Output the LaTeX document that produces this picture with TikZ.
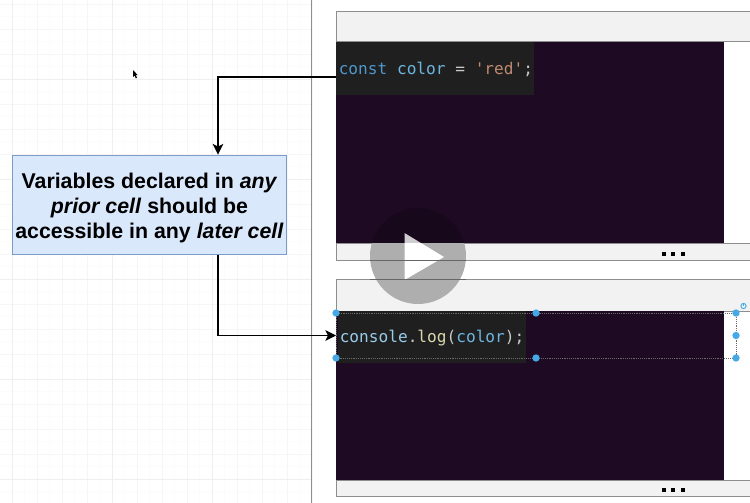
\documentclass[tikz,border=0pt]{standalone}
\usepackage{fontspec}
\setmainfont{Liberation Sans}
\newfontfamily\codefont{DejaVu Sans Mono}
\usetikzlibrary{arrows.meta}
\definecolor{gridfaint}{HTML}{FCFCFC}
\definecolor{gridminor}{HTML}{F6F6F6}
\definecolor{gridmajor}{HTML}{EFEFEF}
\definecolor{cellgray}{HTML}{F2F2F2}
\definecolor{celledge}{HTML}{8E8E8E}
\definecolor{cellink}{HTML}{1F0A24}
\definecolor{codebg}{HTML}{1F1F1F}
\definecolor{kw}{HTML}{4F97CC}
\definecolor{var}{HTML}{6DB6E0}
\definecolor{str}{HTML}{C08A70}
\definecolor{fn}{HTML}{D8D8AC}
\definecolor{plain}{HTML}{C8C8C8}
\definecolor{boxfill}{HTML}{DAE8FC}
\definecolor{boxedge}{HTML}{7C9BC9}
\definecolor{handle}{HTML}{45A9E6}
\definecolor{selline}{HTML}{6A6A6A}
\definecolor{playgray}{HTML}{AEAEAE}
\tikzset{
  flow/.style={draw=black,line width=.8pt,-{Stealth[length=8pt,width=8pt,inset=2pt]}},
  celltop/.style={fill=cellgray,draw=celledge,line width=.75pt},
  ink/.style={fill=cellink},
  codeback/.style={fill=codebg},
  codetext/.style={anchor=west,inner sep=0pt,font=\codefont\fontsize{12.1}{14}\selectfont},
  grab/.style={circle,fill=handle,inner sep=0pt,minimum size=5.5pt},
  seldash/.style={draw=selline,line width=.4pt,densely dotted},
  note/.style={draw=boxedge,fill=boxfill,line width=.75pt,minimum width=206pt,minimum height=74.5pt,inner sep=0pt,align=center,font=\bfseries\fontsize{16}{18.7}\selectfont},
  dotmark/.style={fill=black,minimum size=3pt,inner sep=0pt}
}
\begin{document}
\begin{tikzpicture}[x=.75pt,y=-.75pt]
\useasboundingbox (0,0) rectangle (750,503);
\fill[white] (0,0) rectangle (750,503);
% grid
\foreach \gx in {24.5,49.5,...,312}{\draw[gridfaint,line width=.5pt] (\gx,0)--(\gx,503);}
\foreach \gy in {16.5,41.5,...,504}{\draw[gridfaint,line width=.5pt] (0,\gy)--(311,\gy);}
\foreach \gx in {12,37,...,312}{\draw[gridminor,line width=.5pt] (\gx,0)--(\gx,503);}
\foreach \gy in {4,29,...,504}{\draw[gridminor,line width=.5pt] (0,\gy)--(311,\gy);}
\foreach \gx in {12,112,212}{\draw[gridmajor,line width=.5pt] (\gx,0)--(\gx,503);}
\foreach \gy in {79,179,279,379,479}{\draw[gridmajor,line width=.6pt] (0,\gy)--(311,\gy);}
\draw[celledge,line width=.75pt] (311.5,0)--(311.5,503);
% cursor
\fill[black] (133,70)--(133,77)--(134.6,75.6)--(135.8,78.4)--(137,77.8)--(135.8,75.2)--(137.6,75)--cycle;
% top cell
\path[celltop] (336.5,11.5) -- (752,11.5) -- (752,42) -- (336.5,42) -- cycle;
\path[celltop] (336.5,243) -- (752,243) -- (752,260) -- (336.5,260) -- cycle;
\path[ink] (336,42) rectangle (724,243);
\path[codeback] (336,42) rectangle (534,95);
\node[codetext] (codeA) at (338.5,69) {\textcolor{kw}{const} \textcolor{var}{color} \textcolor{plain}{=} \textcolor{str}{'red'}\textcolor{plain}{;}};
\foreach \dx in {663.5,673,682.5}{\node[dotmark] at (\dx,254) {};}
% bottom cell
\path[celltop] (336,279.5) -- (752,279.5) -- (752,311) -- (336,311) -- cycle;
\path[celltop] (336,480) -- (752,480) -- (752,496) -- (336,496) -- cycle;
\path[ink] (336,311) rectangle (724,480);
\path[codeback] (338,311) rectangle (526,363);
\node[codetext] (codeB) at (339.5,338) {\textcolor{var!70!white}{console}\textcolor{plain}{.}\textcolor{fn}{log}\textcolor{plain}{(}\textcolor{var}{color}\textcolor{plain}{);}};
\foreach \dx in {663.5,673,682.5}{\node[dotmark] at (\dx,490) {};}
% player: part lying on the dark panel and part on the light cells
\begin{scope}
  \clip (370,243) rectangle (466,200);
  \fill[black,opacity=.2] (418,256) circle[radius=48];
  \fill[white,opacity=.8] (404.5,233)--(444,257)--(404.5,280)--cycle;
\end{scope}
\begin{scope}
  \clip (370,243) rectangle (466,310);
  \fill[playgray] (418,256) circle[radius=48];
  \fill[white] (404.5,233)--(444,257)--(404.5,280)--cycle;
  \draw[black!60,line width=.75pt] (336,260)--(752,260);
  \draw[black!60,line width=.75pt] (336,279.5)--(752,279.5);
\end{scope}
% selection
\draw[seldash] (336,313) rectangle (736,358);
\foreach \hx in {336,536,736}{\node[grab] at (\hx,313) {};\node[grab] at (\hx,358) {};}
\node[grab] at (736,335.5) {};
\draw[handle,line width=.7pt] (743.5,306) circle[radius=2.6];
\draw[handle,line width=.7pt] (743.5,303)--(743.5,306);
% connectors
\coordinate (outA) at (336,77);
\coordinate (bendA) at (218,77);
\coordinate (inB) at (336,335.5);
\coordinate (bendB) at (218,335.5);
\node[note] (note) at (149.5,204.7) {\rule{0pt}{16pt}Variables declared in \textit{any}\\\textit{prior cell} should be\\accessible in any \textit{later cell}};
\draw[flow] (outA) -- (bendA) -- (bendA |- note.north);
\draw[flow] (bendB |- note.south) -- (bendB) -- (inB);
\end{tikzpicture}
\end{document}
